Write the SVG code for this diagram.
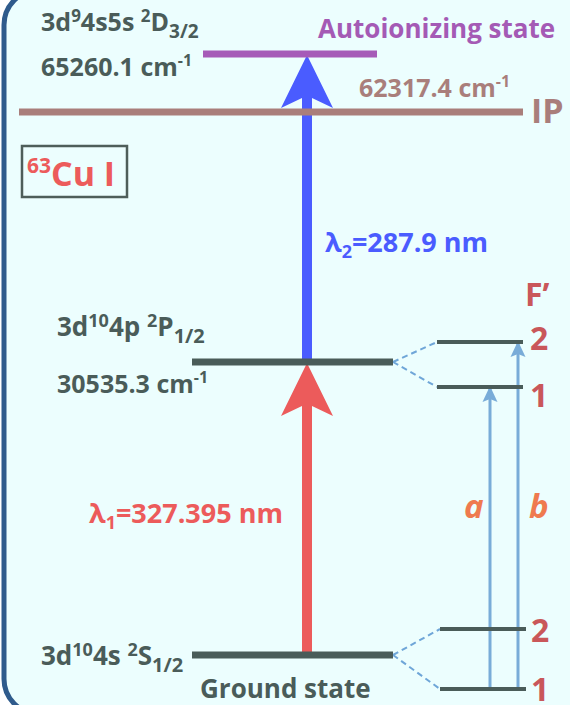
<svg xmlns="http://www.w3.org/2000/svg" width="570" height="705" viewBox="0 0 570 705">
<defs>
<style>
text{font-family:"Open Sans","Noto Sans","Liberation Sans",sans-serif;font-weight:bold;}
.dk{fill:#4a5c59;font-size:25px;}
.dk2{fill:#4a5c59;font-size:26px;}
.lvl{stroke:#4a5c59;stroke-width:7;}
.hf{stroke:#4a5c59;stroke-width:4;}
.dash{stroke:#6fa6d8;stroke-width:2;stroke-dasharray:6 4;fill:none;}
.fl{fill:#c9575a;font-size:32px;}
.ab{fill:#ef7a4f;font-size:33px;font-style:italic;}
.thin{stroke:#79acd8;stroke-width:3;fill:none;marker-end:url(#ah);}
</style>
<marker id="ah" viewBox="0 0 16 16" refX="15" refY="8" markerWidth="16" markerHeight="16" markerUnits="userSpaceOnUse" orient="auto">
<path d="M16 8 L0 0.5 L3 8 L0 15.5 Z" fill="#79acd8"/>
</marker>
</defs>
<rect width="570" height="705" fill="#ffffff"/>
<rect id="frame" x="4" y="-10" width="620" height="724" rx="35" ry="35" fill="#ecfefe" stroke="#2f5b8c" stroke-width="5"/>

<g id="connectors">
<path class="dash" d="M393 362 L437 342 M393 362 L437 387"/>
<path class="dash" d="M393 655 L440 629 M393 655 L440 689"/>
<line class="thin" x1="490" y1="689" x2="490" y2="387"/>
<line class="thin" x1="518" y1="689" x2="518" y2="342"/>
<g id="arrow-lambda2">
<rect x="302" y="98" width="10" height="264" fill="#4a5cff"/>
<path d="M307 55 L333 108 L312 98 L302 98 L281 108 Z" fill="#4a5cff"/>
</g>
<g id="arrow-lambda1">
<rect x="302" y="406" width="10" height="249" fill="#ec5b5b"/>
<path d="M307 363 L333 416 L312 406 L302 406 L281 416 Z" fill="#ec5b5b"/>
</g>
</g>

<g id="autoionizing">
<line x1="203" y1="54" x2="377" y2="54" stroke="#a65bb8" stroke-width="7"/>
<text x="318" y="38" fill="#a45ab5" font-size="26">Autoionizing state</text>
<text class="dk" x="41" y="31">3d<tspan font-size="17" dy="-9">9</tspan><tspan dy="9">4s5s </tspan><tspan font-size="17" dy="-9">2</tspan><tspan dy="9">D</tspan><tspan font-size="19" dy="7">3/2</tspan></text>
<text class="dk" x="41" y="76">65260.1 cm<tspan font-size="16" dy="-10">-1</tspan></text>
</g>

<g id="ip">
<line x1="19" y1="112" x2="523" y2="112" stroke="#a97e7b" stroke-width="7"/>
<text x="359" y="97" fill="#a97e7b" font-size="25">62317.4 cm<tspan font-size="16" dy="-10">-1</tspan></text>
<text x="531" y="123" fill="#a97e7b" font-size="34">IP</text>
</g>

<g id="element">
<rect x="22" y="146" width="105" height="51" fill="none" stroke="#4e5e5a" stroke-width="2.5"/>
<text x="27" y="186" fill="#ec5b5b" font-size="34"><tspan font-size="21" dy="-13">63</tspan><tspan dy="13">Cu I</tspan></text>
</g>

<g id="p-level">
<line x1="192" y1="362" x2="393" y2="362" class="lvl"/>
<text class="dk2" x="57" y="336">3d<tspan font-size="18" dy="-9">10</tspan><tspan dy="9">4p </tspan><tspan font-size="18" dy="-9">2</tspan><tspan dy="9">P</tspan><tspan font-size="20" dy="7">1/2</tspan></text>
<text class="dk" x="57" y="393">30535.3 cm<tspan font-size="16" dy="-10">-1</tspan></text>
</g>

<g id="ground">
<line x1="192" y1="655" x2="393" y2="655" class="lvl"/>
<text class="dk2" x="41" y="665">3d<tspan font-size="18" dy="-9">10</tspan><tspan dy="9">4s </tspan><tspan font-size="18" dy="-9">2</tspan><tspan dy="9">S</tspan><tspan font-size="20" dy="7">1/2</tspan></text>
<text class="dk2" x="200" y="698">Ground state</text>
</g>

<g id="labels">
<text x="325" y="252" fill="#4a5cff" font-size="27">λ<tspan font-size="18" dy="6">2</tspan><tspan dy="-6">=287.9 nm</tspan></text>
<text x="89" y="523" fill="#ec5b5b" font-size="27">λ<tspan font-size="18" dy="6">1</tspan><tspan dy="-6">=327.395 nm</tspan></text>
<text class="ab" x="464" y="518">a</text>
<text class="ab" x="529" y="518">b</text>
</g>

<g id="hf-upper">
<text class="fl" x="525" y="306">F’</text>
<line class="hf" x1="437" y1="342" x2="523" y2="342"/>
<line class="hf" x1="437" y1="387" x2="523" y2="387"/>
<text class="fl" x="530" y="350">2</text>
<text class="fl" x="530" y="407">1</text>
</g>

<g id="hf-lower">
<line class="hf" x1="440" y1="629" x2="526" y2="629"/>
<line class="hf" x1="440" y1="689" x2="526" y2="689"/>
<text class="fl" x="531" y="642">2</text>
<text class="fl" x="531" y="701">1</text>
</g>
</svg>
